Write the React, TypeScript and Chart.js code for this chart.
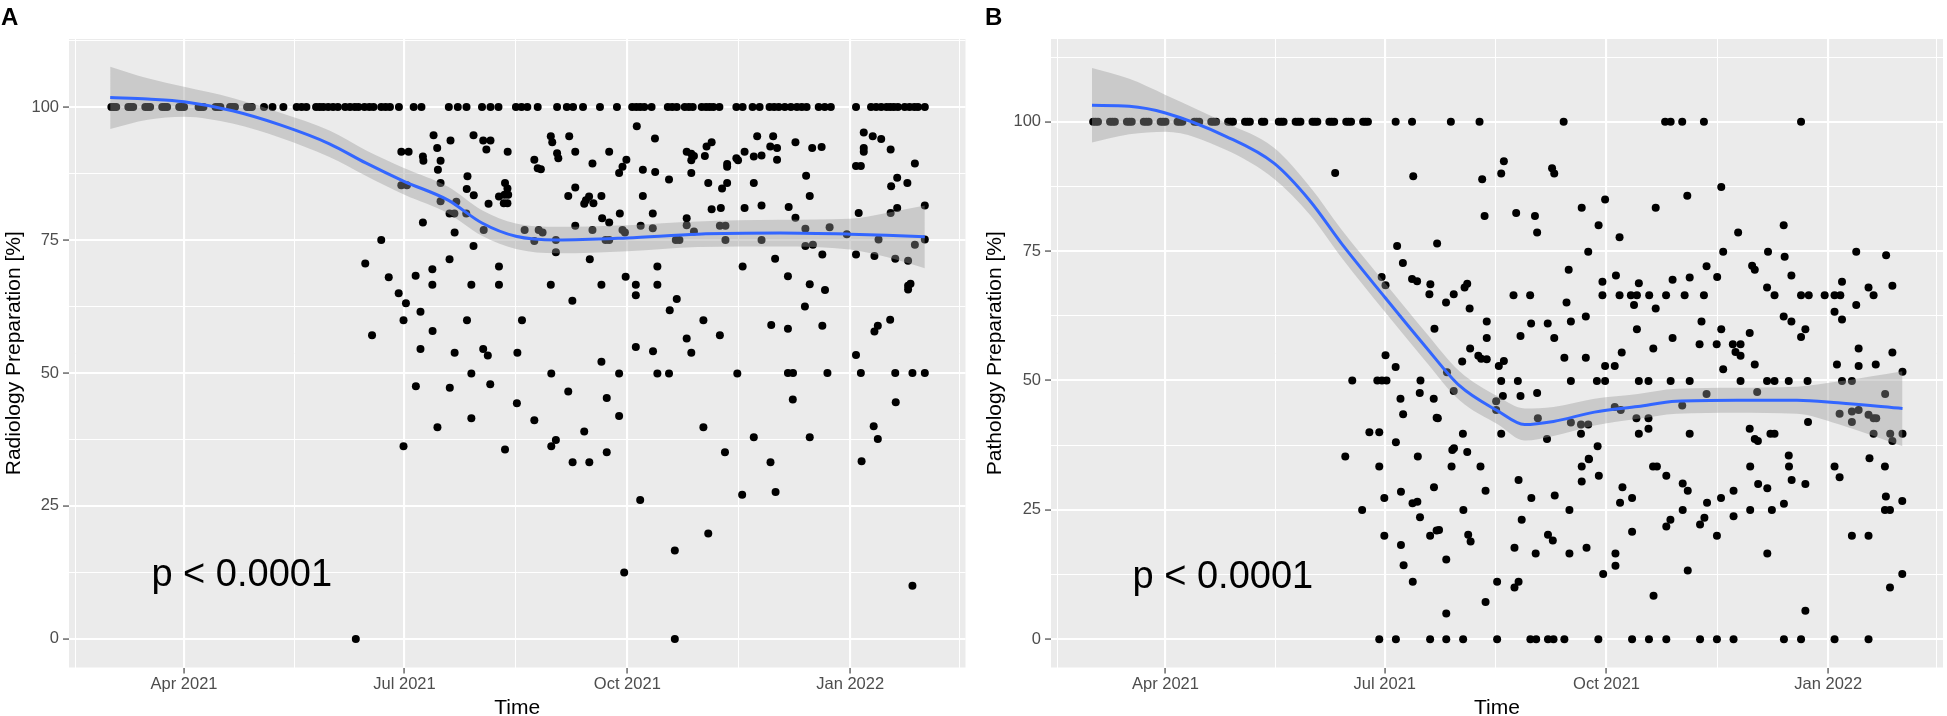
import React, { useEffect, useRef } from "react";
import { Chart, registerables } from "chart.js";

Chart.register(...registerables);

// ---------- axis ticks (x = days since 2021-01-01) ----------
const X_MAJOR = [90, 181, 273, 365];
const X_LABELS = ["Apr 2021", "Jul 2021", "Oct 2021", "Jan 2022"];
const X_MINOR = [45, 135.5, 227, 319, 410];
const Y_MAJOR = [0, 25, 50, 75, 100];
const Y_MINOR = [12.5, 37.5, 62.5, 87.5, 112.5];

// ---------- Panel A: Radiology ----------
const aTopDays = [60, 61, 62, 67, 68, 69, 74, 75, 76, 81, 82, 83, 88, 89, 90, 96, 97, 98, 103, 104, 105, 109, 110, 111, 116, 117, 118, 123, 126.5, 131, 136.5, 138.5, 140.5, 144.5, 146, 147.5, 149.5, 151.5, 153.5, 156.5, 158.5, 160.5, 162, 164.5, 166.5, 168.2, 171.4, 173.2, 175, 178.7, 184.8, 188, 199.3, 203, 206.6, 213, 216.5, 219.8, 227, 229.3, 231.7, 236, 244, 248, 250.6, 254.7, 261.7, 268.7, 275, 276.7, 278.3, 280, 283, 289.7, 291.5, 293.4, 296.7, 298.4, 300, 303.7, 305.5, 307, 308.5, 311, 318, 320.6, 324.7, 327.6, 331.7, 333.6, 335.5, 338, 340.5, 343, 345, 347, 352, 354.5, 357, 367.4, 373.6, 375.7, 377.8, 380, 381.5, 383, 384.7, 387.5, 389.5, 391.5, 393, 395.8];

const aDays = [
  179.7, 182.7, 188.6, 188.8, 193, 194.5, 195.9, 194.8, 195.9, 200,
  209.5, 216.5, 213.5, 214.8, 207, 206.7, 209.6, 215.7, 220, 179.7,
  182, 195.9, 199.6, 201.6, 202.4, 206.5, 201.7, 213.7, 188.6, 171.4,
  164.8, 174.5, 185.6, 192.5, 192.5, 199.6, 208.6, 209.5, 220, 220,
  178.6, 181.6, 187.6, 180.6, 192.6, 206.8, 167.6, 187.6, 201.7, 213.5,
  215.4, 180.6, 185.7, 194.6, 199.7, 208.6, 208.6, 216.4, 222.5, 160.9,
  222.5, 223.5, 222.3, 223.8, 222, 223.5, 223.6, 230.6, 234.6, 236.4,
  238, 234.6, 236, 237.3, 241.4, 242, 244, 244.5, 249, 251.5,
  258.6, 265.5, 269.6, 271, 272.6, 276.9, 284.4, 279.4, 284.5, 290.2,
  251.5, 248.6, 255.9, 257.2, 259, 255.2, 262.3, 269.9, 262.6, 265.5,
  251.5, 258.6, 264, 265.5, 271, 272, 278.5, 279.4, 283.5, 283.5,
  243.5, 243.5, 257.5, 241.4, 250.3, 262.3, 272.3, 276.5, 276.5, 285.4,
  285.4, 293.4, 290.5, 229.5, 227.6, 241.6, 248.6, 262.3, 264.5, 269.6,
  269.6, 227.4, 234.6, 243.5, 241.6, 250.4, 255.2, 257.3, 264.5, 278.3,
  276.5, 283.6, 285.4, 290.2, 297.5, 299.4, 304.4, 311.2, 318.4, 304.4,
  313.3, 325.2, 332.1, 334.2, 320.4, 332.4, 320.6, 334, 306.4, 297.5,
  299.4, 300.5, 299.4, 299.4, 305, 305.7, 307.8, 306.4, 307.8, 311.6,
  297.5, 297.5, 300.5, 293, 294.5, 311.2, 313.5, 313.5, 312.1, 314.2,
  314.2, 314.2, 318, 318.7, 321.4, 325.2, 328.4, 326.6, 333.2, 332,
  334.8, 334.8, 325.2, 321.4, 328.4, 328.4, 271.7, 292.6, 292.6, 342.4,
  349.3, 353.2, 346.8, 348.3, 339.6, 342.4, 346.5, 356.5, 363.6, 346.5,
  349.6, 353.5, 339.3, 348.3, 354.6, 346.3, 339.3, 353.5, 339.3, 341.4,
  341.3, 355.6, 348.3, 370.6, 370.6, 370.6, 374.3, 377.8, 381.7, 367.4,
  369.4, 391.7, 384.4, 381.9, 388.6, 368.5, 381.7, 384.4, 395.8, 367.4,
  375, 376.7, 383.6, 388.9, 391.7, 395.8, 388.9, 389.9, 388.9, 381.5,
  376.4, 375, 367.4, 369.4, 383.6, 390.7, 395.8, 383.8, 374.7, 376.4,
  369.7, 390.7,
];
const aVals = [
  91.6, 91.6, 90.7, 89.9, 94.7, 92.3, 89.9, 88.2, 85.7, 93.7,
  94.7, 93.7, 93.7, 92, 87, 84.6, 83.4, 81.8, 83.2, 85.3,
  85.3, 82.3, 80, 80, 82.2, 80, 76.4, 76.9, 78.3, 75,
  70.6, 68, 68.3, 69.5, 66.6, 71.4, 66.6, 73.9, 70, 66.6,
  65, 63.1, 61.5, 59.9, 57.9, 59.9, 57.1, 54.5, 53.8, 54.5,
  53.3, 36.2, 47.5, 39.8, 47.2, 49.9, 41.5, 47.9, 35.6, 0,
  85.7, 84.7, 83.5, 83.5, 81.9, 81.9, 91.6, 76.9, 74.8, 76.9,
  76.4, 90.1, 88.5, 88.3, 94.5, 93.4, 91.3, 90.4, 94.5, 91.6,
  89.4, 91.6, 87.6, 88.8, 90.1, 96.4, 94.1, 88.2, 87.8, 86.4,
  84.9, 83.3, 82.5, 83.2, 81.9, 81.8, 83.3, 80, 79.1, 78.3,
  77.7, 76.9, 75, 75, 76.9, 76.4, 77.7, 83.3, 80, 77.2,
  75, 72.7, 71.4, 66.6, 63.6, 66.6, 68.1, 66.6, 64.6, 70,
  66.6, 63.9, 61.8, 59.9, 53.8, 49.9, 46.5, 52.1, 45.3, 49.9,
  41.9, 44.3, 41.1, 37.4, 36.2, 33.2, 39, 33.2, 35.1, 26.1,
  54.9, 54.1, 49.9, 49.9, 56.5, 53.8, 59.9, 57.1, 49.9, 39.8,
  35.1, 37.9, 33.2, 27.6, 27.1, 59, 70, 71.5, 19.8, 91.6,
  91.2, 90.8, 90, 87.6, 90.8, 92.6, 93.4, 85.7, 80.8, 81,
  79.1, 77.8, 76.6, 75, 75, 77.7, 77.7, 75, 84.7, 85.7,
  89.3, 88.8, 90.4, 90, 91.6, 90.7, 90.9, 94.5, 94.5, 92.6,
  92.3, 90.1, 85.7, 81, 81.5, 75, 12.5, 16.6, 0, 93.4,
  92.3, 92.5, 87.1, 83.3, 81.2, 79.2, 77.1, 77.4, 76.1, 73.9,
  74.1, 72.3, 68.2, 66.7, 65.6, 62.5, 58.3, 58.9, 50, 50,
  45, 50, 37.9, 95.2, 92.3, 91.6, 94.5, 94, 92, 88.9,
  88.9, 89.4, 86.7, 85.1, 85.7, 80.1, 80.1, 81, 81.5, 72.3,
  72, 75.1, 71.5, 71.1, 74.1, 75.1, 66.4, 66.8, 65.7, 60,
  58.9, 57.8, 53.4, 50, 50, 50, 50, 44.5, 40, 37.6,
  33.4, 10,
];

const aFitDays = [59.5, 75, 90, 110, 130, 150, 165, 181, 199, 213, 227, 244, 273, 302, 336, 365, 380, 395.8];
const aFit = [101.8, 101.5, 101.0, 99.3, 96.6, 93.1, 89.5, 86.0, 82.5, 78.2, 75.7, 75.0, 75.4, 76.1, 76.3, 76.1, 75.9, 75.6];
const aLo = [95.9, 97.6, 98.2, 96.9, 94.2, 90.6, 87.1, 83.5, 80.0, 75.8, 73.3, 72.5, 72.9, 73.7, 73.8, 73.2, 71.8, 69.7];
const aHi = [107.6, 105.4, 103.8, 101.7, 98.9, 95.6, 91.9, 88.5, 85.0, 80.6, 78.1, 77.5, 77.8, 78.5, 78.8, 79.0, 80.1, 81.5];

// ---------- Panel B: Pathology ----------
const bTopDays = [60, 61, 62, 67, 68, 69, 74, 75, 76, 81, 82, 83, 88, 89, 90, 95, 96, 97, 102, 103, 104, 109, 110, 111, 116, 117, 118, 123, 124, 125, 130, 131, 137, 138, 139, 144, 145, 146, 151, 152, 153, 158, 159, 160, 165, 166, 167, 172, 173, 174, 185.5, 192.3, 208.4, 220.3, 255.2, 297.3, 299.6, 304.4, 313.4, 353.7];

const bDays = [
  160.4, 192.8, 186.1, 188.5, 202.7, 179.7, 181.3, 192.3, 194.4, 199.9,
  199.5, 206.4, 209.6, 201.6, 181.3, 185.5, 167.5, 177.9, 179.8, 181.7,
  195.8, 195.5, 206.8, 209.6, 187.5, 201.3, 230.4, 229.3, 221.4, 222.4,
  250.4, 251.3, 235.5, 243.3, 244.2, 262.7, 272.4, 269.7, 265.4, 278.4,
  293.4, 306.5, 320.6, 327.6, 321.4, 340, 346.5, 346.9, 376.6, 389,
  257.3, 333.4, 334.5, 314.5, 318.9, 349.7, 214.1, 215.2, 216.2, 223.3,
  223.3, 234.4, 241.3, 241.7, 237.3, 248.6, 251.3, 256.4, 258.2, 264.4,
  255.5, 264.4, 271.3, 271.3, 276.9, 278.4, 283.1, 285.6, 284.4, 286.4,
  290.7, 293.4, 285.6, 297.7, 300.4, 305.4, 307.5, 313.4, 312.4, 320.6,
  300.4, 311.6, 318.7, 292.4, 279.3, 325.4, 328.6, 326.5, 328.6, 332.4,
  339.6, 342.7, 346.5, 349.7, 355.5, 353.7, 353.7, 356.9, 363.5, 367.6,
  370, 370.7, 367.6, 370.7, 376.6, 381.7, 383.8, 391.6, 377.6, 391.6,
  368.6, 377.6, 384.7, 395.8, 334.5, 321.4, 272.4, 276.4, 230, 228.3,
  230.4, 219.8, 221, 223.3, 216.4, 213.1, 229.3, 236.2, 258.2, 269,
  272.4, 286.4, 290.4, 299.6, 307.5, 328.6, 339.6, 342.7, 348.6, 356.4,
  370.7, 374.8, 237.3, 244.2, 227.2, 227.2, 314.5, 335.5, 276.4, 278.9,
  304.4, 244.5, 258.2, 262.4, 265.4, 285.4, 290.4, 388.6, 369.7, 374.8,
  377.6, 374.8, 381.7, 383.8, 384.9, 356.6, 203, 213.4, 209, 215.2,
  229.3, 248.3, 262.4, 269.3, 265.6, 286.4, 290.4, 307.5, 332.4, 334.5,
  335.8, 341, 342.7, 348.6, 382.1, 383.8, 390.7, 391.6, 395.8, 188.6,
  202.5, 174.6, 178.7, 185.6, 164.6, 178.7, 194.7, 208.7, 209.7, 201.4,
  187.7, 180.8, 192.5, 194.5, 171.6, 195.6, 180.8, 199.8, 202.5, 187.7,
  188.8, 206.5, 192.6, 206.5, 178.7, 185.6, 199.8, 206.5, 213.5, 203.5,
  227.6, 241.4, 243.8, 248.7, 251, 255.5, 269.6, 283.6, 290.6, 297.8,
  311.8, 318.8, 325.7, 346.6, 353.7, 367.6, 381.7, 220.7, 222.8, 213.6,
  215.6, 216.6, 227.6, 222.8, 236.5, 237.8, 234.8, 234.8, 236.5, 241.8,
  243.6, 251.5, 248.7, 250.7, 257.6, 257.6, 264.7, 262.7, 265.7, 262.7,
  269.8, 271.6, 276.7, 276.7, 278.6, 279.6, 283.6, 283.6, 292.3, 293.9,
  292.5, 297.8, 297.8, 299.5, 304.6, 306.7, 304.6, 306.7, 311.8, 313.6,
  314.7, 318.8, 320.5, 325.7, 325.7, 332.6, 332.6, 335.9, 339.7, 339.7,
  341.6, 346.6, 348.7, 349.8, 355.5, 355.5, 367.6, 369.7, 374.8, 381.7,
  388.5, 388.9, 388.5, 390.6, 395.7, 390.6, 395.7,
];
const bVals = [
  90.1, 89.5, 76, 72.7, 76.5, 70, 68.4, 69.6, 69.2, 68.6,
  66.7, 65.1, 66.7, 60, 54.9, 52.6, 50, 50, 50, 50,
  50, 47.6, 51.6, 48, 46.5, 46.5, 92.4, 90, 88.9, 81.8,
  91, 90, 82.4, 81.8, 78.6, 83.4, 85, 80, 74.9, 77.7,
  83.4, 85.7, 87.4, 78.6, 74.9, 74.9, 80, 73.9, 74.9, 74.2,
  71.4, 72.2, 71.4, 72.1, 70, 70.3, 68, 68.7, 63.9, 61.4,
  58.2, 66.5, 66.5, 61, 58.6, 61, 58.2, 65.1, 61.4, 62.4,
  54.4, 54.4, 69.1, 66.5, 70.3, 66.5, 66.5, 66.5, 64.6, 68.8,
  66.5, 63.9, 59.9, 66.5, 69.5, 66.5, 69.9, 66.5, 61.4, 59.9,
  58.2, 57, 57, 56.2, 55.4, 57, 57, 55.5, 54.8, 59.2,
  68, 66.5, 62.4, 61.4, 59.9, 58.4, 66.5, 66.5, 66.5, 66.5,
  66.5, 69.1, 63.3, 61.8, 64.6, 68, 66.5, 68.3, 56.2, 55.4,
  53.1, 52.8, 53.1, 51.7, 53.1, 52.2, 52.8, 52.8, 47, 52.8,
  53.8, 54.8, 54.2, 54.1, 56.2, 53.7, 49.9, 49.9, 49.9, 49.9,
  49.9, 49.9, 49.9, 49.9, 49.9, 49.9, 49.9, 49.9, 49.9, 49.9,
  49.9, 49.9, 47, 47.6, 46, 44.3, 47.4, 47.8, 44.9, 44.3,
  45.2, 42.7, 41.9, 41.5, 41.5, 42.7, 42.7, 47.4, 43.6, 44,
  44.3, 42, 43.4, 42.7, 42.7, 42, 42.7, 39.7, 36.6, 36.2,
  39.7, 38.7, 39.7, 37.3, 34.9, 39.7, 40.7, 39.7, 40.7, 38.7,
  38.3, 39.7, 39.7, 35.5, 35, 39.7, 39.7, 38.3, 39.7, 43.5,
  42.8, 40, 40, 38.1, 35.3, 33.4, 35.3, 33.4, 36.9, 29.4,
  28.5, 27.3, 26.3, 26.6, 25, 23.6, 20, 20, 21, 18.2,
  14.3, 15.4, 11.1, 5, 0, 0, 0, 0, 0, 21.1,
  0, 0, 0, 0, 0, 0, 0, 0, 0, 0,
  0, 0, 0, 0, 0, 0, 0, 33.4, 28.7, 25,
  20.2, 18.9, 11.1, 7.2, 30.8, 23.1, 17.7, 10, 11.1, 27.3,
  16.6, 27.8, 20.2, 19.1, 25, 16.6, 17.7, 33.4, 34.8, 30.5,
  31.6, 12.6, 16.6, 14.2, 26.4, 29.4, 27.3, 20.8, 33.4, 33.4,
  8.4, 31.6, 21.8, 23.1, 30.1, 28.7, 25, 13.3, 22.2, 23.5,
  26.4, 20, 27.3, 28.7, 23.8, 33.4, 25, 30, 29.2, 16.6,
  25, 26.2, 33.4, 30.8, 30, 5.5, 33.4, 31.3, 20, 20,
  33.4, 27.6, 25, 25, 26.7, 10, 12.6,
];

const bFitDays = [59.5, 75, 90, 115, 135, 150, 163, 181, 198, 212, 228, 239, 251, 268, 286, 302, 327, 352, 369, 395.8];
const bFit = [103.2, 103.0, 101.7, 97.2, 92.0, 84.7, 76.5, 66.1, 56.5, 49.0, 44.1, 41.5, 42.1, 43.9, 45.0, 46.0, 46.2, 46.2, 45.7, 44.6];
const bLo = [96.0, 97.6, 98.1, 94.6, 89.0, 82.0, 73.8, 63.3, 53.7, 46.2, 41.5, 38.4, 39.3, 41.3, 42.6, 43.6, 43.8, 43.6, 41.6, 37.3];
const bHi = [110.4, 108.3, 105.2, 99.8, 95.0, 87.4, 79.2, 68.9, 59.3, 51.8, 46.9, 44.6, 44.9, 46.5, 47.4, 48.4, 48.6, 48.8, 49.8, 51.8];

// p-value annotation position (data coordinates)
const P_TEXT = "p < 0.0001";
const P_DAY = 113.8;
const P_VAL = 9.9;

const FONT = "'Liberation Sans', Arial, Helvetica, sans-serif";

type PanelProps = {
  left: number;
  width: number;
  yAxisW: number;
  padRight: number;
  yMin: number;
  yMax: number;
  letter: string;
  letterX: number;
  yTitle: string;
  yTitleX: number;
  topDays: number[];
  days: number[];
  vals: number[];
  fitDays: number[];
  fit: number[];
  lo: number[];
  hi: number[];
};

const H = 716;
const PLOT_TOP = 39;
const X_AXIS_H = 48.5;

function Panel(p: PanelProps) {
  const ref = useRef<HTMLCanvasElement | null>(null);

  useEffect(() => {
    if (!ref.current) return;
    const pts = [
      ...p.topDays.map((d) => ({ x: d, y: 100 })),
      ...p.days.map((d, i) => ({ x: d, y: p.vals[i] })),
    ];
    const fitPts = p.fitDays.map((d, i) => ({ x: d, y: p.fit[i] }));
    const loPts = p.fitDays.map((d, i) => ({ x: d, y: p.lo[i] }));
    const hiPts = p.fitDays.map((d, i) => ({ x: d, y: p.hi[i] }));

    const decor = {
      id: "decor",
      beforeDraw(chart: any) {
        const { ctx, chartArea: a } = chart;
        ctx.save();
        ctx.fillStyle = "#EBEBEB";
        ctx.fillRect(a.left, a.top, a.right - a.left, a.bottom - a.top);
        ctx.restore();
      },
      afterDraw(chart: any) {
        const { ctx, chartArea: a, scales } = chart;
        ctx.save();
        // panel letter
        ctx.fillStyle = "#000000";
        ctx.font = `bold 24px ${FONT}`;
        ctx.textAlign = "left";
        ctx.textBaseline = "alphabetic";
        ctx.fillText(p.letter, p.letterX, 24.5);
        // x title
        ctx.font = `21px ${FONT}`;
        ctx.textAlign = "center";
        ctx.fillText("Time", (a.left + a.right) / 2, 714);
        // y title
        ctx.save();
        ctx.translate(p.yTitleX, (a.top + a.bottom) / 2);
        ctx.rotate(-Math.PI / 2);
        ctx.textAlign = "center";
        ctx.fillText(p.yTitle, 0, 0);
        ctx.restore();
        // p-value
        ctx.font = `38px ${FONT}`;
        ctx.textAlign = "center";
        ctx.fillText(
          P_TEXT,
          scales.x.getPixelForValue(P_DAY),
          scales.y.getPixelForValue(P_VAL)
        );
        ctx.restore();
      },
    };

    const xTickVals = [...X_MAJOR, ...X_MINOR].sort((a, b) => a - b);
    const yTickVals = [...Y_MAJOR, ...Y_MINOR].sort((a, b) => a - b);

    const chart = new Chart(ref.current, {
      type: "scatter",
      data: {
        datasets: [
          {
            type: "line",
            data: fitPts,
            borderColor: "#3366FF",
            borderWidth: 3,
            pointRadius: 0,
            showLine: true,
            cubicInterpolationMode: "monotone",
            fill: false,
            order: 0,
          } as any,
          {
            type: "line",
            data: hiPts,
            borderColor: "rgba(0,0,0,0)",
            borderWidth: 0,
            pointRadius: 0,
            showLine: true,
            cubicInterpolationMode: "monotone",
            fill: "+1",
            backgroundColor: "rgba(153,153,153,0.4)",
            order: 1,
          } as any,
          {
            type: "line",
            data: loPts,
            borderColor: "rgba(0,0,0,0)",
            borderWidth: 0,
            pointRadius: 0,
            showLine: true,
            cubicInterpolationMode: "monotone",
            fill: false,
            order: 1,
          } as any,
          {
            type: "scatter",
            data: pts,
            pointRadius: 4,
            pointHoverRadius: 4,
            backgroundColor: "#000000",
            borderWidth: 0,
            order: 2,
          } as any,
        ],
      },
      options: {
        animation: false,
        responsive: false,
        events: [],
        layout: { padding: { left: 0, top: PLOT_TOP, right: p.padRight, bottom: 0 } },
        plugins: { legend: { display: false }, tooltip: { enabled: false } },
        scales: {
          x: {
            type: "linear",
            min: 42.5,
            max: 412.6,
            afterBuildTicks: (s: any) => {
              s.ticks = xTickVals.map((v) => ({ value: v }));
            },
            afterFit: (s: any) => {
              s.height = X_AXIS_H;
            },
            ticks: {
              autoSkip: false,
              maxRotation: 0,
              minRotation: 0,
              padding: 1,
              color: "#4D4D4D",
              font: { family: FONT, size: 16.5 },
              callback: (v: any) => {
                const i = X_MAJOR.indexOf(Number(v));
                return i >= 0 ? X_LABELS[i] : "";
              },
            },
            grid: {
              color: "#FFFFFF",
              lineWidth: (c: any) => (X_MAJOR.includes(c.tick?.value) ? 2.1 : 1),
              tickColor: (c: any) => (X_MAJOR.includes(c.tick?.value) ? "#333333" : "rgba(0,0,0,0)"),
              tickLength: 6,
              tickWidth: 1.1,
              drawTicks: true,
            },
            border: { display: false },
          },
          y: {
            type: "linear",
            min: p.yMin,
            max: p.yMax,
            afterBuildTicks: (s: any) => {
              s.ticks = yTickVals.map((v) => ({ value: v }));
            },
            afterFit: (s: any) => {
              s.width = p.yAxisW;
            },
            ticks: {
              autoSkip: false,
              padding: 4,
              color: "#4D4D4D",
              font: { family: FONT, size: 16.5 },
              callback: (v: any) => (Y_MAJOR.includes(Number(v)) ? String(v) : ""),
            },
            grid: {
              color: "#FFFFFF",
              lineWidth: (c: any) => (Y_MAJOR.includes(c.tick?.value) ? 2.1 : 1),
              tickColor: (c: any) => (Y_MAJOR.includes(c.tick?.value) ? "#333333" : "rgba(0,0,0,0)"),
              tickLength: 6,
              tickWidth: 1.1,
              drawTicks: true,
            },
            border: { display: false },
          },
        },
      } as any,
      plugins: [decor],
    });
    return () => chart.destroy();
  }, []);

  return (
    <canvas
      ref={ref}
      width={p.width}
      height={H}
      style={{ position: "absolute", left: p.left, top: 0, width: p.width, height: H }}
    />
  );
}

export default function App() {
  return (
    <div style={{ position: "absolute", left: 0, top: 0, width: 1947, height: H, background: "#FFFFFF", overflow: "hidden" }}>
      <Panel
        left={0}
        width={975}
        yAxisW={69}
        padRight={9.5}
        yMin={-5.38}
        yMax={112.8}
        letter="A"
        letterX={1}
        yTitle="Radiology Preparation [%]"
        yTitleX={20}
        topDays={aTopDays}
        days={aDays}
        vals={aVals}
        fitDays={aFitDays}
        fit={aFit}
        lo={aLo}
        hi={aHi}
      />
      <Panel
        left={975}
        width={972}
        yAxisW={76}
        padRight={0.5}
        yMin={-5.45}
        yMax={116}
        letter="B"
        letterX={10}
        yTitle="Pathology Preparation [%]"
        yTitleX={26}
        topDays={bTopDays}
        days={bDays}
        vals={bVals}
        fitDays={bFitDays}
        fit={bFit}
        lo={bLo}
        hi={bHi}
      />
    </div>
  );
}
